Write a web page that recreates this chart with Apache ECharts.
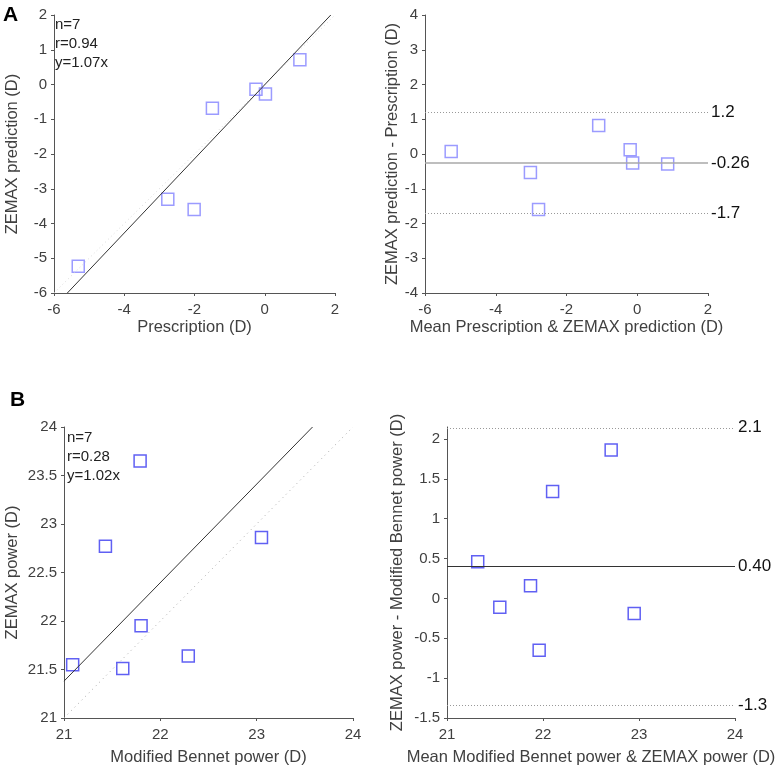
<!DOCTYPE html>
<html>
<head>
<meta charset="utf-8">
<script src="https://cdn.jsdelivr.net/npm/echarts@6/dist/echarts.min.js"></script>
<style>
html,body{margin:0;padding:0;background:#fff;}
#chart{width:780px;height:769px;}
</style>
</head>
<body>
<div id="chart"></div>
<script>
// Panel A (left): Prescription vs ZEMAX prediction
var aPrescription = [-5.31, -2.76, -2.01, -1.49, -0.25, 0.02, 1.00];
var aZemax        = [-5.23, -3.30, -3.60, -0.68, -0.14, -0.27, 0.71];
var aRegLine = [[-5.62, -6], [1.88, 2]];      // y = 1.07x
var aIdentity = [[-6, -6], [2, 2]];
var aStats = ['n=7', 'r=0.94', 'y=1.07x'];

// Panel A (right): Bland-Altman
var aMean = [-5.26, -3.02, -2.79, -1.09, -0.20, -0.13, 0.86];
var aDiff = [0.07, -0.53, -1.60, 0.82, 0.12, -0.26, -0.29];
var aLimitValues = [1.2, -0.26, -1.7];
var aLimitLabels = ['1.2', '-0.26', '-1.7'];

// Panel B (left): Modified Bennet vs ZEMAX power
var bBennet = [21.09, 21.43, 21.61, 21.79, 21.80, 22.29, 23.05];
var bZemax  = [21.55, 22.77, 21.51, 23.65, 21.95, 21.64, 22.86];
var bRegLine = [[21, 21.38], [23.58, 24]];    // y = 1.02x
var bIdentity = [[21, 21], [24, 24]];
var bStats = ['n=7', 'r=0.28', 'y=1.02x'];

// Panel B (right): Bland-Altman
var bMean = [21.32, 21.55, 21.87, 21.96, 22.10, 22.71, 22.95];
var bDiff = [0.46, -0.11, 0.16, -0.65, 1.34, 1.86, -0.19];
var bLimitValues = [2.14, 0.40, -1.34];
var bLimitLabels = ['2.1', '0.40', '-1.3'];
var bYTicks = [-1.5, -1, -0.5, 0, 0.5, 1, 1.5, 2];

function zip(xs, ys) { return xs.map(function (x, i) { return [x, ys[i]]; }); }

var FONT = '"Liberation Sans", Arial, sans-serif';
var axisColor = '#555';
var textColor = '#404040';

function xAx(idx, min, max, interval, name, gap) {
  return {
    type: 'value', gridIndex: idx, min: min, max: max, interval: interval,
    name: name, nameLocation: 'middle', nameGap: gap,
    nameTextStyle: { color: textColor, fontSize: 16.5, fontFamily: FONT },
    axisLine: { show: true, onZero: false, lineStyle: { color: axisColor, width: 1 } },
    axisTick: { show: true, inside: false, length: 3, lineStyle: { color: axisColor } },
    axisLabel: { color: textColor, fontSize: 15, fontFamily: FONT, margin: 9 },
    splitLine: { show: false }
  };
}
function yAx(idx, min, max, interval, name, gap, extra) {
  var o = {
    type: 'value', gridIndex: idx, min: min, max: max, interval: interval,
    name: name, nameLocation: 'middle', nameGap: gap,
    nameTextStyle: { color: textColor, fontSize: 16.5, fontFamily: FONT },
    axisLine: { show: true, onZero: false, lineStyle: { color: axisColor, width: 1 } },
    axisTick: { show: true, inside: false, length: 3, lineStyle: { color: axisColor } },
    axisLabel: { color: textColor, fontSize: 15, fontFamily: FONT, margin: 7 },
    splitLine: { show: false }
  };
  if (extra) {
    o.axisLabel.customValues = extra;
    o.axisTick.customValues = extra;
  }
  return o;
}

function baMarkLine(values, labels, meanIdx, meanColor, meanWidth) {
  return {
    silent: true, symbol: 'none',
    data: values.map(function (v, i) {
      return {
        yAxis: v,
        lineStyle: i === meanIdx
          ? { color: meanColor, type: 'solid', width: meanWidth }
          : { color: '#999', type: [1, 2], width: 1 },
        label: { show: true, position: 'end', formatter: labels[i], color: '#111', fontSize: 17, fontFamily: FONT, distance: 3 }
      };
    })
  };
}

function statTexts(lines, left, top) {
  return lines.map(function (t, i) {
    return { type: 'text', left: left, top: top + i * 19,
      style: { text: t, fill: '#222', font: '15px ' + FONT } };
  });
}

var chart = echarts.init(document.getElementById('chart'), null, { renderer: 'canvas' });
var option = {
  backgroundColor: '#fff',
  animation: false,
  textStyle: { fontFamily: FONT },
  grid: [
    { left: 54, top: 15, width: 281, height: 278 },
    { left: 425, top: 15, width: 283, height: 278 },
    { left: 64, top: 427, width: 289, height: 291 },
    { left: 447, top: 427, width: 288, height: 291 }
  ],
  xAxis: [
    xAx(0, -6, 2, 2, 'Prescription (D)', 26),
    xAx(1, -6, 2, 2, 'Mean Prescription & ZEMAX prediction (D)', 26),
    xAx(2, 21, 24, 1, 'Modified Bennet power (D)', 31),
    xAx(3, 21, 24, 1, 'Mean Modified Bennet power & ZEMAX power (D)', 31)
  ],
  yAxis: [
    yAx(0, -6, 2, 1, 'ZEMAX prediction (D)', 33),
    yAx(1, -4, 4, 1, 'ZEMAX prediction - Prescription (D)', 23),
    yAx(2, 21, 24, 0.5, 'ZEMAX power (D)', 43),
    yAx(3, -1.5, 2.15, 0.5, 'ZEMAX power - Modified Bennet power (D)', 41, bYTicks)
  ],
  series: [
    { type: 'line', xAxisIndex: 0, yAxisIndex: 0, data: aIdentity, symbol: 'none', silent: true,
      lineStyle: { color: '#d8d8d8', type: [1, 3], width: 1 } },
    { type: 'line', xAxisIndex: 0, yAxisIndex: 0, data: aRegLine, symbol: 'none', silent: true,
      lineStyle: { color: '#333', width: 1 } },
    { type: 'scatter', xAxisIndex: 0, yAxisIndex: 0, data: zip(aPrescription, aZemax),
      symbol: 'rect', symbolSize: 12,
      itemStyle: { color: 'rgba(0,0,0,0)', borderColor: '#8282ff', borderWidth: 1.5 } },

    { type: 'scatter', xAxisIndex: 1, yAxisIndex: 1, data: zip(aMean, aDiff),
      symbol: 'rect', symbolSize: 12,
      itemStyle: { color: 'rgba(0,0,0,0)', borderColor: '#8282ff', borderWidth: 1.5 },
      markLine: baMarkLine(aLimitValues, aLimitLabels, 1, '#a8a8a8', 1.5) },

    { type: 'line', xAxisIndex: 2, yAxisIndex: 2, data: bIdentity, symbol: 'none', silent: true,
      lineStyle: { color: '#aaa', type: [1, 4], width: 1 } },
    { type: 'line', xAxisIndex: 2, yAxisIndex: 2, data: bRegLine, symbol: 'none', silent: true,
      lineStyle: { color: '#333', width: 1 } },
    { type: 'scatter', xAxisIndex: 2, yAxisIndex: 2, data: zip(bBennet, bZemax),
      symbol: 'rect', symbolSize: 12,
      itemStyle: { color: 'rgba(0,0,0,0)', borderColor: '#3838f0', borderWidth: 1.5 } },

    { type: 'scatter', xAxisIndex: 3, yAxisIndex: 3, data: zip(bMean, bDiff),
      symbol: 'rect', symbolSize: 12,
      itemStyle: { color: 'rgba(0,0,0,0)', borderColor: '#3838f0', borderWidth: 1.5 },
      markLine: baMarkLine(bLimitValues, bLimitLabels, 1, '#333', 1.2) }
  ],
  graphic: [
    { type: 'text', left: 3, top: 5, style: { text: 'A', fill: '#000', font: 'bold 21px ' + FONT } },
    { type: 'text', left: 10, top: 390, style: { text: 'B', fill: '#000', font: 'bold 21px ' + FONT } }
  ].concat(statTexts(aStats, 55, 17)).concat(statTexts(bStats, 67, 430))
};
chart.setOption(option);
</script>
</body>
</html>
